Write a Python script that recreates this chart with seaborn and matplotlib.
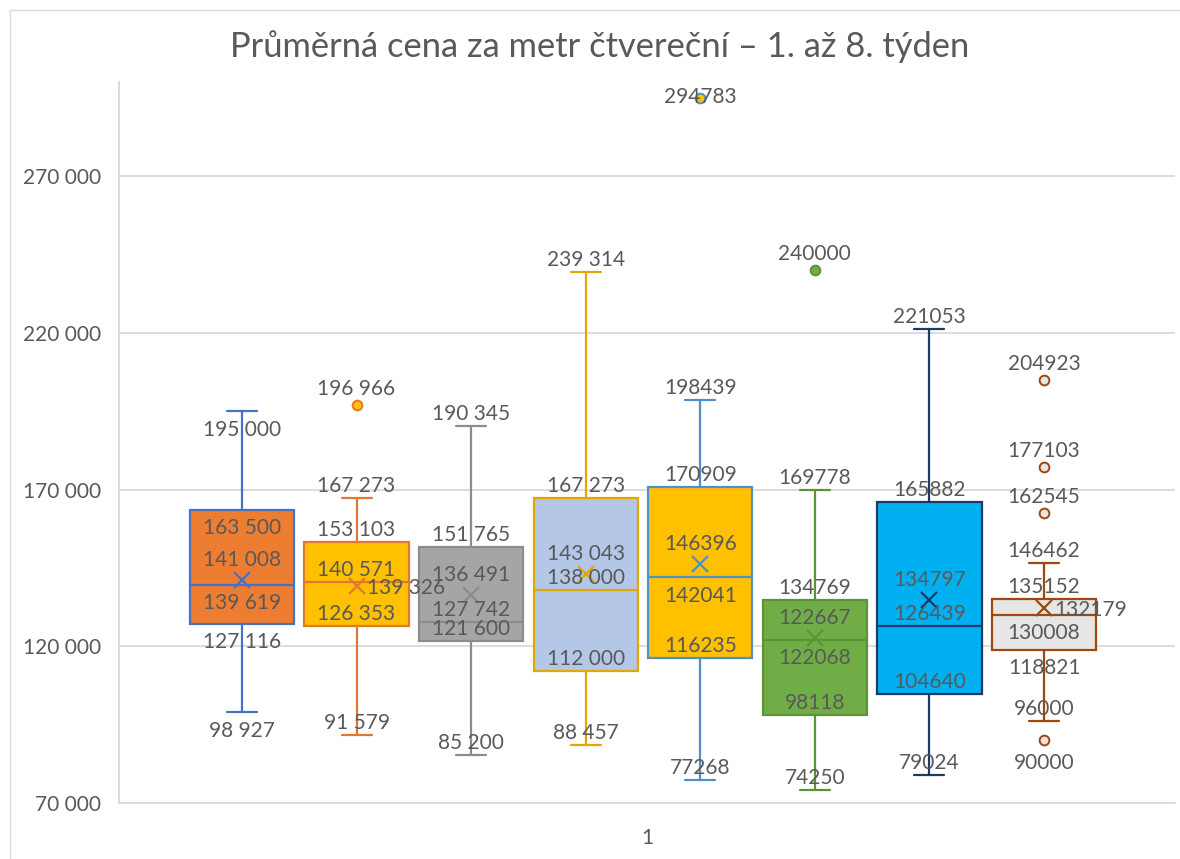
import numpy as np
import pandas as pd
import matplotlib
matplotlib.use("Agg")
import matplotlib.pyplot as plt
from matplotlib.lines import Line2D
import seaborn as sns

# ---------------- data ----------------
title = "Průměrná cena za metr čtvereční – 1. až 8. týden"
category = ["1"]
weeks = ["1", "2", "3", "4", "5", "6", "7", "8"]
whisker_low = [98927, 91579, 85200, 88457, 77268, 74250, 79024, 96000]
q1 = [127116, 126353, 121600, 112000, 116235, 98118, 104640, 118821]
median = [139619, 140571, 127742, 138000, 142041, 122068, 126439, 130008]
mean = [141008, 139326, 136491, 143043, 146396, 122667, 134797, 132179]
q3 = [163500, 153103, 151765, 167273, 170909, 134769, 165882, 135152]
whisker_high = [195000, 167273, 190345, 239314, 198439, 169778, 221053, 146462]
outliers = [[], [196966], [], [], [294783], [240000], [], [204923, 177103, 162545, 90000]]
y_ticks = [70000, 120000, 170000, 220000, 270000]

# ---------------- style ----------------
fill_colors = ["#ED7D31", "#FFC000", "#A5A5A5", "#B4C7E7", "#FFC000", "#70AD47", "#00B0F0", "#E7E6E6"]
edge_colors = ["#4472C4", "#E2782F", "#8C8C8C", "#E0A800", "#4F8FCB", "#5B9337", "#1F3864", "#9E480E"]
thousand_sep = [True, True, True, True, False, False, False, False]
# label placement for [whishi, q3, mean, median, q1, whislo]
label_pos = [
    ["b", "b", "a", "b", "b", "b"],
    ["a", "a", "r", "a", "a", "a"],
    ["a", "a", "a", "a", "a", "a"],
    ["a", "a", "a", "a", "a", "a"],
    ["a", "a", "a", "b", "a", "a"],
    ["a", "a", "a", "b", "a", "a"],
    ["a", "a", "a", "a", "a", "a"],
    ["a", "a", "r", "b", "b", "a"],
]
outlier_pos = [[], ["a"], [], [], ["c"], ["a"], [], ["a", "a", "a", "b"]]
text_color = "#595959"
grid_color = "#D9D9D9"

sns.set_theme(style="white")
plt.rcParams["font.family"] = ["Lato", "DejaVu Sans"]

W, H = 1180, 859
fig = plt.figure(figsize=(W / 100, H / 100), dpi=100)
ax = fig.add_axes([119 / W, 1 - 803 / H, (1175 - 119) / W, (803 - 82) / H])

positions = np.arange(len(weeks))
for i in range(len(weeks)):
    st = dict(med=median[i], q1=q1[i], q3=q3[i], whislo=whisker_low[i],
              whishi=whisker_high[i], mean=mean[i], fliers=outliers[i], label=weeks[i])
    ec = edge_colors[i]
    ax.bxp([st], positions=[positions[i]], widths=0.91, capwidths=0.262,
           showmeans=True, showfliers=True, patch_artist=True, manage_ticks=False,
           boxprops=dict(facecolor=fill_colors[i], edgecolor=ec, linewidth=1.6),
           medianprops=dict(color=ec, linewidth=1.6),
           whiskerprops=dict(color=ec, linewidth=1.6),
           capprops=dict(color=ec, linewidth=1.6),
           meanprops=dict(marker="x", markeredgecolor=ec, markersize=12,
                          markeredgewidth=1.6, linestyle="none"),
           flierprops=dict(marker="o", markerfacecolor=fill_colors[i], markeredgecolor=ec,
                           markersize=7, markeredgewidth=1.4, linestyle="none"),
           zorder=3)


def fmt(v, sep):
    return f"{v:,}".replace(",", " ") if sep else str(v)


def put(x, v, code, sep, kind="stat"):
    if code == "a":
        dx, dy, ha = 0, (20 if kind == "mean" else (16 if kind == "out" else 12)), "center"
    elif code == "b":
        dx, dy, ha = 0, (-23 if kind == "out" else -18.5), "center"
    elif code == "r":
        dx, dy, ha = 10, -2, "left"
    else:
        dx, dy, ha = 0, 1, "center"
    ax.annotate(fmt(v, sep), xy=(x, v), xytext=(dx, dy), textcoords="offset pixels",
                ha=ha, va="center", fontsize=15, color=text_color, zorder=5)


for i in range(len(weeks)):
    vals = [whisker_high[i], q3[i], mean[i], median[i], q1[i], whisker_low[i]]
    kinds = ["stat", "stat", "mean", "stat", "stat", "stat"]
    for v, code, k in zip(vals, label_pos[i], kinds):
        put(positions[i], v, code, thousand_sep[i], k)
    for v, code in zip(outliers[i], outlier_pos[i]):
        put(positions[i], v, code, thousand_sep[i], "out")

xl = (-1.073, 8.143)
ax.set_xlim(*xl)
ax.set_ylim(70000, 300000)
ax.set_yticks(y_ticks)
ax.set_yticklabels([fmt(v, True) for v in y_ticks])
ax.set_xticks([(xl[0] + xl[1]) / 2])
ax.set_xticklabels(category)
ax.tick_params(axis="y", length=0, pad=13, labelsize=15, labelcolor=text_color)
ax.tick_params(axis="x", length=0, pad=18, labelsize=15, labelcolor=text_color)
ax.yaxis.grid(True, color=grid_color, linewidth=1.3)
ax.xaxis.grid(False)
ax.set_axisbelow(True)
for s in ["top", "right"]:
    ax.spines[s].set_visible(False)
for s in ["left", "bottom"]:
    ax.spines[s].set_color(grid_color)
    ax.spines[s].set_linewidth(1.3)
ax.set_facecolor("white")

fig.text(600 / W, 1 - 47 / H, title, ha="center", va="center", fontsize=24.8, color=text_color)

fig.add_artist(Line2D([9.5 / W, 1], [1 - 9.5 / H] * 2, transform=fig.transFigure,
                      color=grid_color, lw=1))
fig.add_artist(Line2D([9.5 / W] * 2, [0, 1 - 9.5 / H], transform=fig.transFigure,
                      color=grid_color, lw=1))

fig.savefig("out.png", dpi=100, facecolor="white")
